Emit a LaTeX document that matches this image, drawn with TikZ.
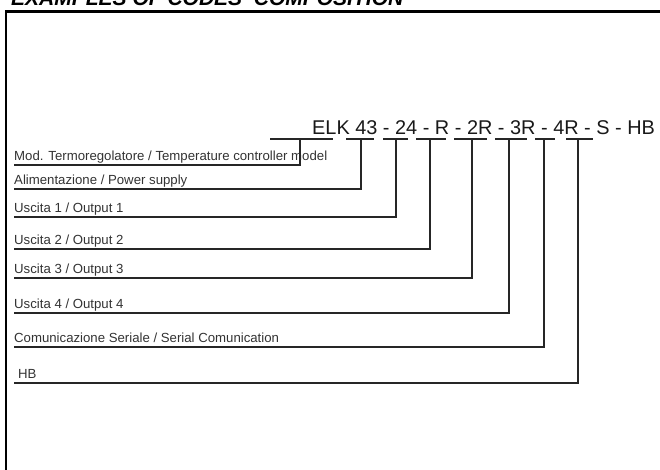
\documentclass[tikz,border=0pt]{standalone}
\usepackage{fontspec}
\setmainfont{Liberation Sans}
\usetikzlibrary{positioning}

\tikzset{
  frame/.style={line width=2.3pt, black},
  conn/.style={line width=1.4pt, black!85},
  lbl/.style={anchor=base west, inner sep=0pt, text=black!80,
    font=\fontsize{13.2}{15}\selectfont},
  code/.style={anchor=base west, inner sep=0pt, text=black!90,
    font=\fontsize{19.9}{22}\selectfont},
}

\begin{document}
\begin{tikzpicture}[x=1pt,y=-1pt]
\useasboundingbox (0,0) rectangle (660,470);

% frame and title
\draw[frame] (6.2,475) -- (6.2,11.5) -- (665,11.5);
\node[anchor=base west, inner sep=0pt,
  font=\fontsize{21}{23}\selectfont\bfseries\itshape] (title) at (11,5.5)
  {EXAMPLES OF CODES' COMPOSITION};

% code string
\node[code] (code) at (312,135) {ELK 43 - 24 - R - 2R - 3R - 4R - S - HB};

% fields: label line y / riser x / underline from / underline to / text x / text
\foreach \y/\xv/\xa/\xb/\tx/\txt [count=\i] in {
  165/300/270/333/14/{Mod. Termoregolatore / Temperature controller model},
  189/361/346/374/14/{Alimentazione / Power supply},
  217/396/383/408/14/{Uscita 1 / Output 1},
  249/430/416/446/14/{Uscita 2 / Output 2},
  278/472/454/487/14/{Uscita 3 / Output 3},
  313/509/495/527/14/{Uscita 4 / Output 4},
  347/544/535/555/14/{Comunicazione Seriale / Serial Comunication},
  383/578/566/593/18/{HB}} {
\coordinate (ua\i) at (\xa,139);
\coordinate (ub\i) at (\xb,139);
\coordinate (top\i) at (\xv,139);
\coordinate (end\i) at (14,\y);
\node[lbl] (lbl\i) at (\tx,\y-4.5) {\txt};
\draw[conn] (ua\i) -- (ub\i);
\draw[conn] (top\i) |- (end\i);
}
\end{tikzpicture}
\end{document}
